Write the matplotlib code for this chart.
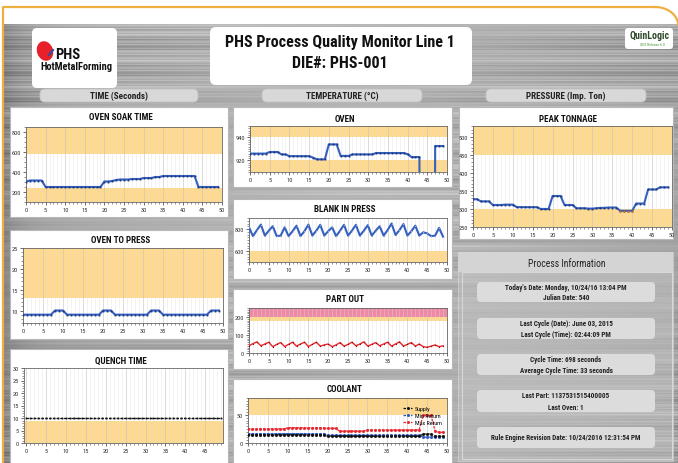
import numpy as np
import matplotlib
matplotlib.use('Agg')
import matplotlib.pyplot as plt
from matplotlib.patches import FancyBboxPatch, Rectangle, Ellipse
from matplotlib import font_manager as fm

# ---------------- data ----------------
x_index = list(range(50))

oven_soak = [305, 315, 315, 315, 315, 250, 250, 250, 250, 250, 250, 250, 250, 250, 250,
             250, 250, 250, 250, 250, 305, 305, 310, 320, 325, 325, 325, 330, 330, 330,
             340, 340, 340, 350, 350, 360, 360, 360, 360, 360, 360, 360, 360, 360, 250,
             250, 250, 250, 250, 250]

oven_to_press = [9, 9, 9, 9, 9, 9, 9, 9, 10, 10, 10, 9, 9, 9, 9, 9, 9, 9, 9, 9,
                 10, 10, 10, 9, 9, 9, 9, 9, 9, 9, 9, 9, 10, 10, 10, 9, 9, 9, 9, 9,
                 9, 9, 9, 9, 9, 9, 9, 10, 10, 10]

quench_time = [10, 10, 10, 10, 10, 10, 10, 10, 10, 10, 10, 10, 10, 10, 10, 10, 10, 10, 10, 10,
               10, 10, 10, 10, 10, 10, 10, 10, 10, 10, 10, 10, 10, 10, 10, 10, 10, 10, 10, 10,
               10, 10, 10, 10, 10, 10, 10, 10, 10, 10]

oven_temp = [926, 926, 926, 926, 926, 927.4, 927.4, 927.4, 925.3, 925.3, 923.8, 923.8, 923.8,
             923.8, 923.8, 923.8, 922.5, 921, 921, 921, 934, 934, 934, 924, 924, 924,
             925.3, 925.3, 925.3, 925.3, 925.3, 925.3, 926.5, 926.5, 926.5, 926.5, 926.5,
             926.5, 926.5, 926.5, 925.5, 923, 923, 923, 0, 0, 0, 932.6, 932.6, 932.6]

blank_in_press = [815, 735, 790, 840, 740, 785, 825, 735, 740, 815, 735, 780, 830, 735, 780,
                  840, 740, 785, 838, 740, 780, 815, 735, 785, 838, 740, 785, 838, 740, 785,
                  835, 740, 785, 825, 740, 790, 850, 745, 790, 845, 740, 780, 830, 740, 770,
                  760, 735, 740, 810, 730]

part_out = [40, 52, 62, 40, 50, 60, 35, 48, 58, 36, 48, 60, 38, 50, 60, 36, 48, 60, 38, 45,
            50, 35, 45, 58, 38, 48, 60, 40, 50, 62, 38, 48, 58, 40, 50, 60, 38, 50, 62, 38,
            48, 58, 38, 50, 35, 32, 38, 45, 35, 40]

coolant_supply = [14.5, 14.5, 14.5, 14.5, 14.5, 14.5, 14.5, 14.5, 14.5, 14.5, 14.5, 14.5, 14.5,
                  14.5, 14.5, 14.5, 14.5, 14.5, 14.5, 14.5, 12, 12, 12, 12, 12, 12, 12, 12, 12,
                  12, 12, 12, 12, 12, 12, 12, 12, 12, 12, 12, 12, 12, 12, 12, 16, 16, 16, 12, 12, 12]
coolant_min_return = [16.5, 16.5, 16.5, 16.5, 16.5, 16.5, 16.5, 16.5, 16.5, 16.5, 16.5, 16.5,
                      16.5, 16.5, 16.5, 16.5, 16.5, 16.5, 16.5, 16.5, 13.5, 13.5, 13.5, 13.5,
                      13.5, 13.5, 13.5, 13.5, 13.5, 13.5, 13.5, 13.5, 13.5, 13.5, 13.5, 13.5,
                      13.5, 13.5, 13.5, 13.5, 13.5, 13.5, 13.5, 13.5, 10.5, 10.5, 10.5, 11.5,
                      11.5, 11.5]
coolant_max_return = [25, 25, 25, 25, 25, 25, 25, 25, 25, 25, 27, 27, 27, 27, 27, 27, 27, 27,
                      27, 27, 26, 26, 26, 21, 21, 21, 21, 21, 21, 21, 23, 23, 23, 23, 23, 23,
                      23, 23, 23, 23, 23, 23, 23, 23.5, 49, 49, 49, 21, 19, 19]

peak_tonnage = [327, 327, 321, 321, 321, 311, 311, 311, 312, 312, 312, 305, 305, 305, 305, 305,
                305, 300, 300, 300, 336, 336, 336, 311, 311, 311, 302, 302, 302, 301, 301, 302,
                303, 303, 304, 304, 304, 295, 295, 295, 295, 315, 315, 315, 354, 354, 354, 360,
                360, 360]

info_lines = [
    ["Today's Date: Monday, 10/24/16 13:04 PM", "Julian Date: 540"],
    ["Last Cycle (Date): June 03, 2015", "Last Cycle (Time): 02:44:09 PM"],
    ["Cycle Time: 698 seconds", "Average Cycle Time: 33 seconds"],
    ["Last Part: 1137531515400005", "Last Oven: 1"],
    ["Rule Engine Revision Date: 10/24/2016 12:31:54 PM"],
]

# ---------------- style ----------------
names = {f.name for f in fm.fontManager.ttflist}
FONT = 'Liberation Sans'
for cand in ['Liberation Sans Narrow', 'Roboto Condensed', 'Noto Sans Condensed',
             'Open Sans Condensed', 'DejaVu Sans Condensed', 'Noto Sans SemiCondensed',
             'Open Sans SemiCondensed']:
    if cand in names:
        FONT = cand
        break
plt.rcParams['font.family'] = [FONT, 'DejaVu Sans']

BAND = '#FED98E'
PINK = '#EE8AA6'
BLUE = '#3560C0'
NAVY = '#1C3478'

W, H = 678, 464
fig = plt.figure(figsize=(W / 100, H / 100), dpi=100)
fig.patch.set_facecolor('white')
renderer = fig.canvas.get_renderer()

bg = fig.add_axes([0, 0, 1, 1])
bg.set_xlim(0, W)
bg.set_ylim(H, 0)
bg.axis('off')


def fit_size(s, width, size=10, weight='bold'):
    t = bg.text(0, 0, s, fontsize=size, fontweight=weight)
    w = t.get_window_extent(renderer=renderer).width
    t.remove()
    return size * width / w


def ftext(x, y, s, size, weight='bold', color='#111', z=6, **kw):
    bg.text(x, y, s, fontsize=size, fontweight=weight, color=color, ha='center',
            va='center', zorder=z, **kw)


# brushed-metal background (deterministic streak texture)
rows = np.arange(440)[:, None]
cols = np.arange(676)[None, :]
streak = (0.035 * np.sin(rows * 1.93) + 0.03 * np.sin(rows * 0.71 + 1.0) +
          0.02 * np.sin(rows * 3.17 + 0.4) + 0.03 * np.sin(rows * 0.23))
grad = 0.64 + 0.06 * np.sin(np.pi * cols / 676) - 0.12 * np.exp(-cols / 22.0)
texture = np.clip(grad + streak * (0.9 + 0.5 * np.sin(cols / 90.0 + rows / 60.0)), 0, 1)
bg.imshow(texture, cmap='gray', vmin=0, vmax=1, extent=(3, 678, 464, 25),
          aspect='auto', zorder=0, interpolation='bilinear')

# orange border
bg.plot([3, 3, 655], [464, 8, 8], color='#EDB040', lw=1.6, zorder=1)
t = np.linspace(0, np.pi / 2, 20)
bg.plot(655 + 23 * np.sin(t), 8 + 18 * (1 - np.cos(t)), color='#EDB040', lw=1.6, zorder=1)


def rbox(x0, y0, x1, y1, fc, ec='none', r=5, lw=0.8, z=2, alpha=1.0):
    p = FancyBboxPatch((x0, y0), x1 - x0, y1 - y0,
                       boxstyle=f'round,pad=0,rounding_size={r}',
                       fc=fc, ec=ec, lw=lw, zorder=z, alpha=alpha)
    bg.add_patch(p)


# header boxes
rbox(32, 29, 117, 89, 'white', r=5)
bg.add_patch(Ellipse((45, 52), 16, 20, angle=-20, fc='#E8202A', ec='none', zorder=3))
bg.plot([49, 53], [56, 51], color='#2A4FA0', lw=1.5, zorder=4)
bg.text(55, 55, 'PHS', fontsize=fit_size('PHS', 25), fontweight='bold', color='#111',
        va='center', ha='left', zorder=5)
bg.text(40, 67, 'HotMetalForming', fontsize=fit_size('HotMetalForming', 72), fontweight='bold',
        color='#111', va='center', ha='left', zorder=5)

rbox(210, 28, 472, 86, 'white', r=6)
title_size = fit_size('PHS Process Quality Monitor Line 1', 231)
ftext(340, 43, 'PHS Process Quality Monitor Line 1', title_size)
ftext(340, 64, 'DIE#: PHS-001', title_size)

rbox(625, 29, 673, 50, 'white', r=3)
bg.text(649, 36, 'QuinLogic', fontsize=fit_size('QuinLogic', 40), color='#2E4A2A',
        fontweight='bold', ha='center', va='center', zorder=5)
bg.text(652, 45, 'QES Release 6.0', fontsize=2.8, color='#4A9A3A', ha='center', va='center',
        zorder=5)

# section pills
pill_size = fit_size('TIME (Seconds)', 58)
for (x0, x1, label) in [(40, 198, 'TIME (Seconds)'), (262, 422, 'TEMPERATURE (\u00b0C)'),
                        (486, 646, 'PRESSURE (Imp. Ton)')]:
    rbox(x0, 90, x1, 103, '#D8D8D8', ec='#C4C4C4', r=5, lw=0.6)
    ftext((x0 + x1) / 2, 96.8, label, pill_size, color='#222')

panel_title_size = fit_size('OVEN SOAK TIME', 64)


def panel(px0, py0, px1, py1, title, ty):
    bg.add_patch(Rectangle((px0, py0), px1 - px0, py1 - py0, fc='white', ec='#B8B8B8',
                           lw=0.8, zorder=2))
    ftext((px0 + px1) / 2 + 2, ty, title, panel_title_size)


def chart(l, t, r, b, ylim, yticks, bands, xlim=(0, 50), xticks=range(0, 51, 5), yminor=None):
    ax = fig.add_axes([l / W, 1 - b / H, (r - l) / W, (b - t) / H])
    ax.set_facecolor('white')
    ax.set_xlim(*xlim)
    ax.set_ylim(*ylim)
    for (a, c, col) in bands:
        ax.axhspan(a, c, color=col, zorder=0, lw=0)
    for i in range(0, 51):
        if xlim[0] <= i <= xlim[1]:
            if i % 5 == 0:
                ax.axvline(i, color='#C4C4C4', lw=0.6, alpha=0.7, zorder=0.5)
            else:
                ax.axvline(i, color='#DDDDDD', lw=0.45, alpha=0.55, zorder=0.5)
    ax.set_xticks(list(xticks))
    ax.set_xticks(range(0, 50), minor=True)
    ax.set_yticks(yticks)
    if yminor is not None:
        ax.set_yticks(yminor, minor=True)
    ax.tick_params(axis='both', which='major', labelsize=4.6, length=2.2, width=0.5,
                   colors='#333', pad=1.5)
    ax.tick_params(axis='both', which='minor', length=1.2, width=0.4, colors='#444')
    for s in ax.spines.values():
        s.set_color('#666')
        s.set_linewidth(0.6)
    return ax


def blue_line(ax, ys, lw=1.5):
    ax.plot(x_index, ys, color=BLUE, lw=lw, zorder=3, solid_joinstyle='round')
    ax.plot(x_index, ys, ls='none', marker='s', ms=1.3, mfc=NAVY, mec='none', zorder=4)


# ---- left column ----
panel(10, 108, 228, 218, 'OVEN SOAK TIME', 118)
ax = chart(26, 128, 222, 203, (100, 850), [200, 400, 600, 800],
           [(100, 237, BAND), (580, 850, BAND)], yminor=np.arange(100, 851, 50))
blue_line(ax, oven_soak)

panel(10, 231, 228, 340, 'OVEN TO PRESS', 241)
ax = chart(23, 249, 223, 324, (7, 25), [10, 15, 20, 25], [(13, 25, BAND)],
           yminor=np.arange(7, 25.1, 1))
blue_line(ax, oven_to_press)

panel(10, 350, 228, 470, 'QUENCH TIME', 361)
ax = chart(24, 369, 223, 444, (0, 30), list(range(0, 31, 5)), [(0, 9, BAND)],
           xlim=(-0.6, 49.5), xticks=range(0, 46, 5), yminor=np.arange(0, 30.1, 1))
ax.plot(x_index, quench_time, color='#111', lw=0.9, ls=(0, (2, 1)), zorder=3)
ax.plot(x_index, quench_time, ls='none', marker='s', ms=1.3, mfc='#111', mec='none', zorder=4)

# ---- middle column ----
panel(233, 108, 452, 188, 'OVEN', 120)
ax = chart(250, 127, 447, 173, (910, 950), [920, 940], [(910, 920, BAND), (940, 950, BAND)],
           yminor=np.arange(910, 950.1, 2))
blue_line(ax, oven_temp)

panel(233, 200, 452, 280, 'BLANK IN PRESS', 210)
ax = chart(249, 219, 447, 263, (500, 900), [600, 800], [(500, 600, BAND)],
           yminor=np.arange(500, 901, 25))
ax.plot(x_index, blank_in_press, color=BLUE, lw=1.5, zorder=3)
ax.plot(x_index, blank_in_press, ls='none', marker='o', ms=1.0, mfc='#9AA8C8', mec='none', zorder=4)

panel(233, 290, 452, 370, 'PART OUT', 300)
ax = chart(249, 309, 447, 354, (0, 250), [0, 100, 200], [(178, 200, BAND), (200, 250, PINK)],
           yminor=np.arange(0, 251, 10))
ax.plot(x_index, part_out, color='#E8242C', lw=1.0, zorder=3)
ax.plot(x_index, part_out, ls='none', marker='o', ms=0.9, mfc='#7A1010', mec='none', zorder=4)

panel(233, 380, 452, 470, 'COOLANT', 390)
ax = chart(248, 399, 447, 444, (0, 80), [0, 50], [(50, 80, BAND)],
           yminor=np.arange(0, 81, 5))
ax.plot(x_index, coolant_supply, color='#111', lw=0.9, ls=(0, (2, 1)), marker='s', ms=1.0,
        zorder=4, label='Supply')
ax.plot(x_index, coolant_min_return, color='#2A55C0', lw=0.9, ls=(0, (2, 1)), marker='s',
        ms=1.0, zorder=3, label='Min Return')
ax.plot(x_index, coolant_max_return, color='#E8242C', lw=0.9, ls=(0, (2, 1)), marker='s',
        ms=1.0, zorder=3, label='Max Return')
ax.legend(loc='upper left', bbox_to_anchor=(0.76, 0.90), fontsize=4.3, frameon=False,
          handlelength=1.6, labelspacing=0.25, borderpad=0.1, handletextpad=0.4)

# ---- right column ----
panel(459, 108, 673, 240, 'PEAK TONNAGE', 120)
ax = chart(473, 127, 672, 228, (250, 530), list(range(250, 501, 50)),
           [(250, 300, BAND), (450, 530, BAND)], yminor=np.arange(250, 531, 10))
blue_line(ax, peak_tonnage)
low_x = [i for i, v in zip(x_index, peak_tonnage) if v < 300]
low_y = [v for v in peak_tonnage if v < 300]
ax.plot(low_x, low_y, ls='none', marker='s', ms=1.4, mfc='#C07030', mec='none', zorder=5)

# ---- process information ----
bg.add_patch(Rectangle((458, 253), 215, 209, fc='#C4C4C4', ec='#E0E0E0', lw=0.8, zorder=2,
                       alpha=0.5))
bg.add_patch(Rectangle((458, 253), 215, 20, fc='#D4D4D4', ec='none', zorder=3))
ftext(567, 264, 'Process Information', fit_size('Process Information', 77, weight='normal'),
      weight='normal', color='#222')
bg.add_patch(Rectangle((462, 273), 210, 187, fc='none', ec='#D8D8D8', lw=0.8, zorder=3))

info_size = fit_size("Today's Date: Monday, 10/24/16 13:04 PM", 122)
boxes = [(283, 303), (319, 340), (355, 376), (391, 413), (428, 449)]
for (y0, y1), lines in zip(boxes, info_lines):
    rbox(477, y0, 655, y1, '#DCDCDC', r=4, z=3)
    if len(lines) == 2:
        ftext(566, y0 + 5.5, lines[0], info_size, color='#222')
        ftext(566, y1 - 5, lines[1], info_size, color='#222')
    else:
        ftext(566, (y0 + y1) / 2, lines[0], info_size, color='#222')

fig.savefig('out.png', dpi=100)
